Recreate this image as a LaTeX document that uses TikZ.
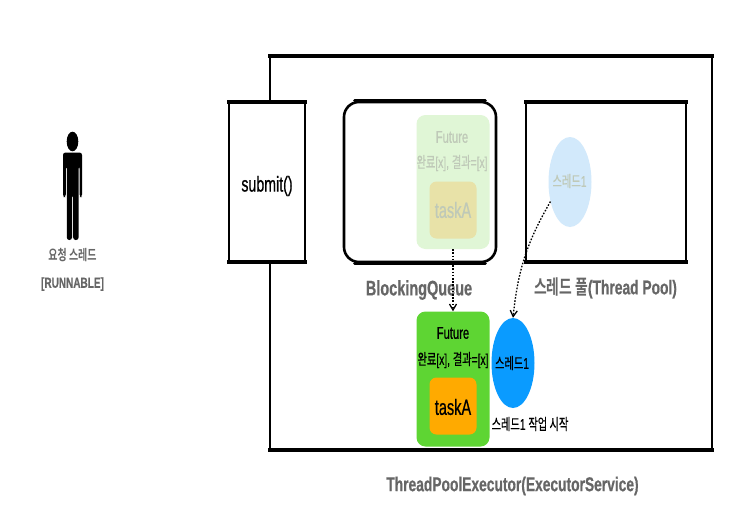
\documentclass[tikz,border=0pt]{standalone}
\usepackage{fontspec}
\setmainfont[FakeStretch=0.66,FakeBold=0.6]{Liberation Sans}
\newfontfamily\kr[FakeStretch=0.66,FakeBold=0.4]{Noto Sans CJK KR}
\newfontfamily\capfont[FakeStretch=0.69,FakeBold=0.5]{Liberation Sans Bold}
\newfontfamily\capkr[FakeStretch=0.69]{Noto Sans CJK KR Bold}
\newcommand{\ko}[1]{{\kr #1}}
\newcommand{\kob}[1]{{\capkr #1}}
\definecolor{labelgray}{HTML}{666666}
\definecolor{futgreen}{HTML}{5ED533}
\definecolor{taskorange}{HTML}{FFAA00}
\definecolor{thblue}{HTML}{0A9BFF}
\definecolor{fadegreen}{HTML}{E0F6D6}
\definecolor{fadeorange}{HTML}{E8E2A8}
\definecolor{fadeblue}{HTML}{D2E9FB}
\definecolor{fadetext}{HTML}{BFC9B8}
\usetikzlibrary{arrows.meta,shapes.geometric}
\tikzset{
  heavybox/.style={draw=black,line width=2pt,fill=white,inner sep=0pt},
  heavyedge/.style={line width=4pt,line cap=butt},
  queueedge/.style={line width=3.2pt,line cap=round},
  future/.style={rounded corners=9pt,inner sep=0pt,minimum width=73pt,minimum height=134pt},
  taskbox/.style={rounded corners=7pt,inner sep=0pt,minimum width=47pt,minimum height=57pt},
  thread/.style={ellipse,inner sep=0pt,minimum width=43pt,minimum height=90pt},
  caption/.style={text=labelgray,font=\capfont\fontsize{20}{22}\selectfont,inner sep=0pt},
  small/.style={font=\fontsize{15.5}{17}\selectfont,inner sep=0pt},
  futuretext/.style={font=\fontsize{17}{19}\selectfont,inner sep=0pt},
  tasktext/.style={font=\fontsize{22}{24}\selectfont,inner sep=0pt},
  smallgray/.style={text=labelgray,font=\capfont\fontsize{14.5}{16}\selectfont,inner sep=0pt},
  link/.style={draw=black,line width=1.3pt,dash pattern=on 1.6pt off 1.6pt,-{Straight Barb[length=6pt,width=7pt]}}
}
\begin{document}
\begin{tikzpicture}[x=1pt,y=-1pt]
\useasboundingbox (0,0) rectangle (740,509);
% outer
\node[heavybox,minimum width=442pt,minimum height=392pt] (outer) at (491,253) {};
\draw[heavyedge] ([xshift=-.9pt]outer.north west) -- ([xshift=.9pt]outer.north east);
\draw[heavyedge] ([xshift=-.9pt]outer.south west) -- ([xshift=.9pt]outer.south east);
\node[heavybox,minimum width=76pt,minimum height=158pt] (submit) at (267,182) {};
\draw[heavyedge] ([xshift=-.9pt]submit.north west) -- ([xshift=.9pt]submit.north east);
\draw[heavyedge] ([xshift=-.9pt]submit.south west) -- ([xshift=.9pt]submit.south east);
\node[font=\fontsize{21.5}{23}\selectfont,inner sep=0pt] (submitl) at (267,186) {submit()};
\node[heavybox,line width=2.6pt,rounded corners=15pt,minimum width=152pt,minimum height=160pt] (queue) at (420,182) {};
\draw[queueedge] ([xshift=12pt]queue.north west) -- ([xshift=-12pt]queue.north east);
\draw[queueedge] ([xshift=12pt]queue.south west) -- ([xshift=-12pt]queue.south east);
\node[heavybox,minimum width=160pt,minimum height=158pt] (pool) at (606,182) {};
\draw[heavyedge] ([xshift=-.9pt]pool.north west) -- ([xshift=.9pt]pool.north east);
\draw[heavyedge] ([xshift=-.9pt]pool.south west) -- ([xshift=.9pt]pool.south east);
% faded
\node[future,fill=fadegreen] (fut1) at (453,182) {};
\node[text=fadetext,futuretext] (fut1a) at (452,137) {Future};
\node[text=fadetext,small] (fut1b) at (452,163) {\ko{완료}[x], \ko{결과}=[x]};
\node[taskbox,fill=fadeorange] (task1) at (453,210) {};
\node[text=fadetext,tasktext] (task1l) at (453,210) {taskA};
\node[thread,fill=fadeblue] (th1) at (570,182) {};
\node[text=fadetext,small] (th1l) at (569.5,181) {\ko{스레드}1};
% solid
\node[future,fill=futgreen,minimum height=135pt] (fut2) at (453,379) {};
\node[futuretext] (fut2a) at (453,333) {Future};
\node[small] (fut2b) at (453,360) {\ko{완료}[x], \ko{결과}=[x]};
\node[taskbox,fill=taskorange] (task2) at (453,406) {};
\node[tasktext] (task2l) at (453,407) {taskA};
\node[thread,fill=thblue] (th2) at (513,363) {};
\node[small] (th2l) at (512,363) {\ko{스레드}1};
\node[small] (startl) at (530,424) {\ko{스레드}1 \ko{작업 시작}};
% captions
\node[caption,font=\capfont\fontsize{21}{23}\selectfont] (qcap) at (419,290) {BlockingQueue};
\node[caption] (pcap) at (605.5,288) {\kob{스레드 풀}(Thread Pool)};
\node[caption] (ecap) at (512.5,486) {ThreadPoolExecutor(ExecutorService)};
% person
\fill (72.5,141.5) ellipse (5.8 and 9.8);
\fill[rounded corners=2.5pt] (63,197) -- (63,152.5) -- (82,152.5) -- (82,197) -- (79.6,197) -- (79.6,166) -- (78.6,166) -- (78.6,240) -- (73.2,240) -- (73.2,195) -- (72,195) -- (72,240) -- (66.8,240) -- (66.8,166) -- (65.8,166) -- (65.8,197) -- cycle;
\node[smallgray] (pa) at (72.5,255) {\kob{요청 스레드}};
\node[smallgray] (pb) at (72.5,284) {[RUNNABLE]};
% connectors
\draw[link] (fut1.south) -- (fut2.north);
\draw[link] (th1.225) to[out=240,in=84] (th2.north);
\end{tikzpicture}
\end{document}
